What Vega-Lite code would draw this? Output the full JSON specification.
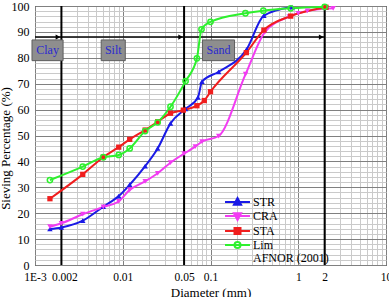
{
  "$schema": "https://vega.github.io/schema/vega-lite/v6.json",
  "width": 351,
  "height": 259,
  "autosize": {"type": "none"},
  "padding": {"left": 35, "top": 6, "right": 3, "bottom": 32},
  "background": "white",
  "config": {
    "font": "Liberation Serif",
    "view": {"stroke": "black", "strokeWidth": 1},
    "axis": {
      "labelFont": "Liberation Serif",
      "titleFont": "Liberation Serif",
      "labelColor": "black",
      "titleColor": "black",
      "labelFontSize": 12,
      "titleFontSize": 13,
      "titleFontWeight": "normal",
      "domain": false,
      "ticks": false,
      "labelFlush": false,
      "labelBound": false
    }
  },
  "datasets": {
    "curves": [
      {"series": "STR", "d": 0.00148, "pct": 13.9},
      {"series": "STR", "d": 0.002, "pct": 14.5},
      {"series": "STR", "d": 0.0035, "pct": 17.1},
      {"series": "STR", "d": 0.006, "pct": 22.5},
      {"series": "STR", "d": 0.009, "pct": 26.6},
      {"series": "STR", "d": 0.012, "pct": 31},
      {"series": "STR", "d": 0.018, "pct": 38.2},
      {"series": "STR", "d": 0.025, "pct": 45},
      {"series": "STR", "d": 0.035, "pct": 54.7},
      {"series": "STR", "d": 0.052, "pct": 60.3},
      {"series": "STR", "d": 0.072, "pct": 64.7},
      {"series": "STR", "d": 0.08, "pct": 70.8},
      {"series": "STR", "d": 0.124, "pct": 74.6},
      {"series": "STR", "d": 0.258, "pct": 83.3},
      {"series": "STR", "d": 0.406, "pct": 96.3},
      {"series": "STR", "d": 0.85, "pct": 99.6},
      {"series": "CRA", "d": 0.00148, "pct": 14.8},
      {"series": "CRA", "d": 0.002, "pct": 16.1},
      {"series": "CRA", "d": 0.0035, "pct": 19.6},
      {"series": "CRA", "d": 0.006, "pct": 22.4},
      {"series": "CRA", "d": 0.009, "pct": 24.6},
      {"series": "CRA", "d": 0.012, "pct": 29},
      {"series": "CRA", "d": 0.018, "pct": 32.3},
      {"series": "CRA", "d": 0.025, "pct": 35.4},
      {"series": "CRA", "d": 0.035, "pct": 39.5},
      {"series": "CRA", "d": 0.05, "pct": 43},
      {"series": "CRA", "d": 0.067, "pct": 45.7},
      {"series": "CRA", "d": 0.08, "pct": 47.6},
      {"series": "CRA", "d": 0.124, "pct": 49.8},
      {"series": "CRA", "d": 0.251, "pct": 73.7},
      {"series": "CRA", "d": 0.42, "pct": 90.1},
      {"series": "CRA", "d": 0.79, "pct": 95.9},
      {"series": "CRA", "d": 1.0, "pct": 97.2},
      {"series": "CRA", "d": 1.27, "pct": 98.1},
      {"series": "CRA", "d": 2.5, "pct": 99.1},
      {"series": "STA", "d": 0.00148, "pct": 25.6},
      {"series": "STA", "d": 0.0035, "pct": 35},
      {"series": "STA", "d": 0.006, "pct": 41.6},
      {"series": "STA", "d": 0.009, "pct": 45.5},
      {"series": "STA", "d": 0.012, "pct": 48.5},
      {"series": "STA", "d": 0.018, "pct": 52.1},
      {"series": "STA", "d": 0.025, "pct": 55.3},
      {"series": "STA", "d": 0.035, "pct": 58.6},
      {"series": "STA", "d": 0.049, "pct": 59.8},
      {"series": "STA", "d": 0.07, "pct": 61.5},
      {"series": "STA", "d": 0.085, "pct": 63.5},
      {"series": "STA", "d": 0.1, "pct": 66.9},
      {"series": "STA", "d": 0.256, "pct": 82},
      {"series": "STA", "d": 0.406, "pct": 90.7},
      {"series": "STA", "d": 0.82, "pct": 96.1},
      {"series": "STA", "d": 2.07, "pct": 99.5},
      {"series": "Lim", "d": 0.00148, "pct": 32.8},
      {"series": "Lim", "d": 0.0035, "pct": 38},
      {"series": "Lim", "d": 0.006, "pct": 41.6},
      {"series": "Lim", "d": 0.009, "pct": 42.5},
      {"series": "Lim", "d": 0.012, "pct": 45},
      {"series": "Lim", "d": 0.018, "pct": 51.7},
      {"series": "Lim", "d": 0.025, "pct": 55.1},
      {"series": "Lim", "d": 0.035, "pct": 61.1},
      {"series": "Lim", "d": 0.052, "pct": 71},
      {"series": "Lim", "d": 0.07, "pct": 79.8},
      {"series": "Lim", "d": 0.079, "pct": 91},
      {"series": "Lim", "d": 0.1, "pct": 93.9},
      {"series": "Lim", "d": 0.25, "pct": 97.2},
      {"series": "Lim", "d": 0.4, "pct": 98.2},
      {"series": "Lim", "d": 0.82, "pct": 99.1},
      {"series": "Lim", "d": 2, "pct": 99.7}
    ],
    "bounds": [
      {"d": 0.002, "lo": 0, "hi": 100, "level": 88},
      {"d": 0.05, "lo": 0, "hi": 100, "level": 88},
      {"d": 2, "lo": 0, "hi": 100, "level": 88}
    ],
    "arrow": [
      {"d": 0.001, "d2": 2, "level": 88}
    ],
    "classes": [
      {"name": "Clay", "d": 0.000924, "d2": 0.00209, "dc": 0.00139, "lo": 78.9, "hi": 86.9, "mid": 82.9},
      {"name": "Silt", "d": 0.00568, "d2": 0.01069, "dc": 0.00779, "lo": 78.9, "hi": 86.9, "mid": 82.9},
      {"name": "Sand", "d": 0.081, "d2": 0.188, "dc": 0.1234, "lo": 78.9, "hi": 86.9, "mid": 82.9}
    ]
  },
  "resolve": {"scale": {"y": "independent"}, "axis": {"y": "independent"}},
  "layer": [
    {
      "data": {"name": "bounds"},
      "mark": {"type": "rule", "opacity": 0},
      "encoding": {
        "x": {
          "field": "d", "type": "quantitative",
          "scale": {"type": "log", "domain": [0.001, 10], "nice": false},
          "title": "Diameter (mm)",
          "axis": {
            "values": [0.001, 0.002, 0.003, 0.004, 0.005, 0.006, 0.007, 0.008, 0.009, 0.01, 0.02, 0.03, 0.04, 0.05, 0.06, 0.07, 0.08, 0.09, 0.1, 0.2, 0.3, 0.4, 0.5, 0.6, 0.7, 0.8, 0.9, 1, 2, 3, 4, 5, 6, 7, 8, 9, 10],
            "labelExpr": "datum.value===0.001?'1E-3':datum.value===0.002?'0.002':datum.value===0.01?'0.01':datum.value===0.05?'0.05':datum.value===0.1?'0.1':datum.value===1?'1':datum.value===2?'2':datum.value===10?'10':''",
            "labelOverlap": false,
            "labelSeparation": -40,
            "labelFlush": false,
            "labelFontSize": 11.5,
            "labelOffset": {"condition": {"test": "datum.value===0.002", "value": 3}, "value": 0},
            "labelPadding": 6,
            "titlePadding": 4,
            "gridColor": {"condition": {"test": "datum.value===0.001||datum.value===0.01||datum.value===0.1||datum.value===1||datum.value===10", "value": "#808080"}, "value": "#cacaca"},
            "gridWidth": 1
          }
        },
        "y": {
          "field": "lo", "type": "quantitative",
          "scale": {"domain": [0, 100], "nice": false},
          "axis": {
            "orient": "right",
            "values": [2, 4, 6, 8, 12, 14, 16, 18, 22, 24, 26, 28, 32, 34, 36, 38, 42, 44, 46, 48, 52, 54, 56, 58, 62, 64, 66, 68, 72, 74, 76, 78, 82, 84, 86, 88, 92, 94, 96, 98],
            "labels": false,
            "ticks": false,
            "domain": false,
            "title": null,
            "grid": true,
            "gridColor": "#cacaca",
            "gridWidth": 1
          }
        },
        "y2": {"field": "hi"}
      }
    },
    {
      "layer": [
        {
          "data": {"name": "bounds"},
          "mark": {"type": "rule", "color": "black", "strokeWidth": 2},
          "encoding": {
            "x": {"field": "d", "type": "quantitative"},
            "y": {
              "field": "lo", "type": "quantitative",
              "scale": {"domain": [0, 100], "nice": false},
              "title": "Sieving Percentage (%)",
              "axis": {
                "values": [0, 10, 20, 30, 40, 50, 60, 70, 80, 90, 100],
                "tickCount": 11,
                "labelOverlap": false,
                "labelSeparation": -40,
                "labelPadding": 6,
                "titleX": -23,
                "titleY": 142,
                "titleBaseline": "bottom",
                "titleAngle": -90,
                "grid": true,
                "gridColor": "#808080",
                "gridWidth": 1
              }
            },
            "y2": {"field": "hi"}
          }
        },
        {
          "data": {"name": "arrow"},
          "mark": {"type": "rule", "color": "black", "strokeWidth": 1.5},
          "encoding": {
            "x": {"field": "d", "type": "quantitative"},
            "x2": {"field": "d2"},
            "y": {"field": "level", "type": "quantitative"}
          }
        },
        {
          "data": {"name": "bounds"},
          "mark": {"type": "point", "shape": "triangle-right", "filled": true, "color": "black", "size": 28, "opacity": 1, "xOffset": -3.5},
          "encoding": {
            "x": {"field": "d", "type": "quantitative"},
            "y": {"field": "level", "type": "quantitative"}
          }
        },
        {
          "data": {"name": "curves"},
          "mark": {"type": "line", "interpolate": "monotone", "strokeWidth": 2},
          "encoding": {
            "x": {"field": "d", "type": "quantitative"},
            "y": {"field": "pct", "type": "quantitative"},
            "color": {
              "field": "series", "type": "nominal",
              "scale": {"domain": ["STR", "CRA", "STA", "Lim"], "range": ["#1a1ae6", "#f23cf2", "#f01e1e", "#2ef02e"]},
              "legend": {
                "orient": "none",
                "legendX": 195.5,
                "legendY": 189,
                "padding": 0,
                "title": "AFNOR (2001)",
                "titleOrient": "bottom",
                "titleFont": "Liberation Serif",
                "titleFontSize": 12,
                "titleFontWeight": "normal",
                "titleColor": "black",
                "titlePadding": 1,
                "labelFont": "Liberation Serif",
                "labelFontSize": 12,
                "labelColor": "black",
                "labelOffset": 8.5,
                "symbolSize": 144,
                "symbolStrokeWidth": 2,
                "rowPadding": 0,
                "symbolType": "stroke",
                "encode": {
                  "symbols": {
                    "update": {
                      "size": {"value": 144},
                      "shape": {"signal": "datum.value==='STR' ? 'M-2.08,0H2.08M0,-0.65L0.6,0.45L-0.6,0.45Z' : datum.value==='CRA' ? 'M-2.08,0H2.08M0,0.65L0.6,-0.45L-0.6,-0.45Z' : datum.value==='STA' ? 'M-2.08,0H2.08M-0.5,-0.5H0.5V0.5H-0.5Z' : 'M-2.08,0H2.08M-0.5,0A0.5,0.5 0 1,0 0.5,0A0.5,0.5 0 1,0 -0.5,0'"},
                      "fill": {"signal": "datum.value==='Lim' ? 'white' : scale('color', datum.value)"},
                      "stroke": {"signal": "scale('color', datum.value)"},
                      "strokeWidth": {"value": 2}
                    }
                  },
                  "title": {"update": {"dx": {"value": 22.5}}}
                }
              }
            }
          }
        },
        {
          "data": {"name": "curves"},
          "transform": [{"filter": "datum.series === 'STR'"}],
          "mark": {"type": "point", "shape": "triangle-up", "filled": true, "color": "#1a1ae6", "size": 30, "opacity": 1},
          "encoding": {"x": {"field": "d", "type": "quantitative"}, "y": {"field": "pct", "type": "quantitative"}}
        },
        {
          "data": {"name": "curves"},
          "transform": [{"filter": "datum.series === 'CRA'"}],
          "mark": {"type": "point", "shape": "triangle-down", "filled": true, "color": "#f23cf2", "size": 30, "opacity": 1},
          "encoding": {"x": {"field": "d", "type": "quantitative"}, "y": {"field": "pct", "type": "quantitative"}}
        },
        {
          "data": {"name": "curves"},
          "transform": [{"filter": "datum.series === 'STA'"}],
          "mark": {"type": "point", "shape": "square", "filled": true, "color": "#f01e1e", "size": 28, "opacity": 1},
          "encoding": {"x": {"field": "d", "type": "quantitative"}, "y": {"field": "pct", "type": "quantitative"}}
        },
        {
          "data": {"name": "curves"},
          "transform": [{"filter": "datum.series === 'Lim'"}],
          "mark": {"type": "point", "shape": "circle", "filled": false, "color": "#2ef02e", "strokeWidth": 1.5, "size": 28, "opacity": 1},
          "encoding": {"x": {"field": "d", "type": "quantitative"}, "y": {"field": "pct", "type": "quantitative"}}
        },
        {
          "data": {"name": "classes"},
          "mark": {"type": "rect", "fill": "#8e8e8e", "stroke": "#5e5e5e", "strokeWidth": 1},
          "encoding": {
            "x": {"field": "d", "type": "quantitative"},
            "x2": {"field": "d2"},
            "y": {"field": "lo", "type": "quantitative"},
            "y2": {"field": "hi"}
          }
        },
        {
          "data": {"name": "classes"},
          "mark": {"type": "text", "font": "Liberation Serif", "fontSize": 12, "color": "#2a2ad0", "align": "center", "baseline": "middle"},
          "encoding": {
            "x": {"field": "dc", "type": "quantitative"},
            "y": {"field": "mid", "type": "quantitative"},
            "text": {"field": "name"}
          }
        }
      ]
    }
  ]
}
